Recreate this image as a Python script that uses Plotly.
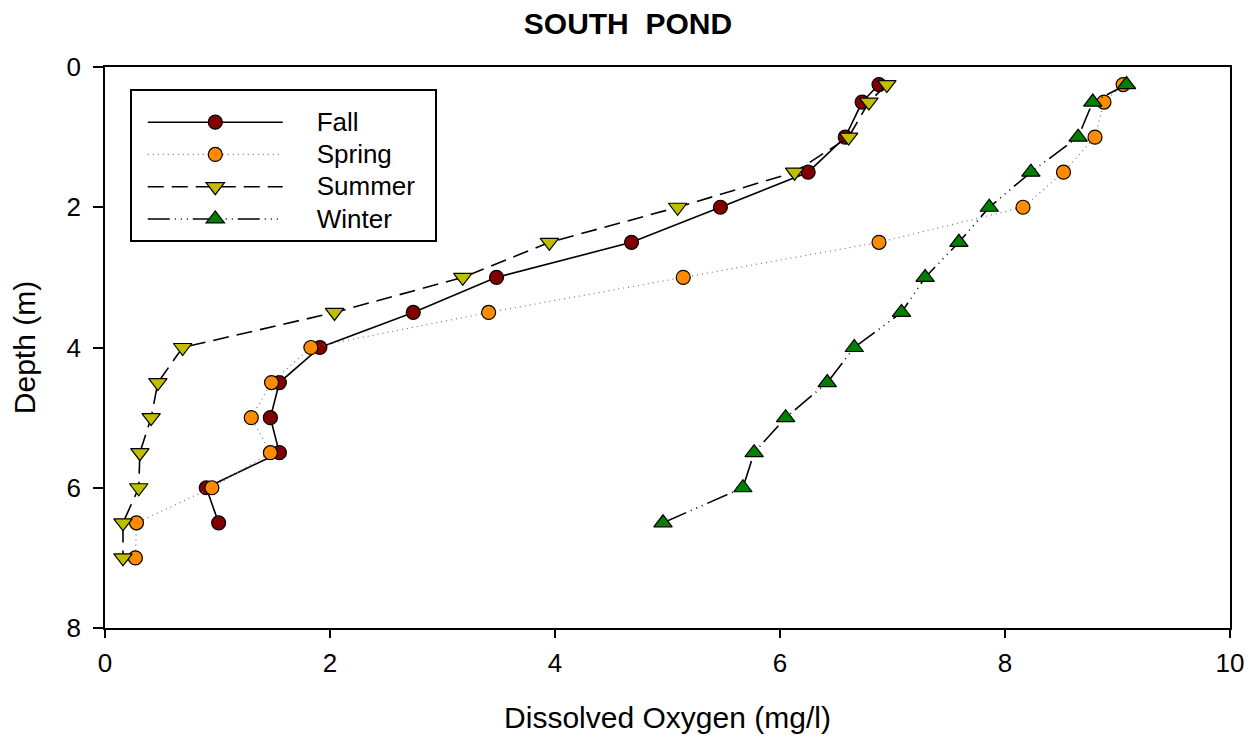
import plotly.graph_objects as go

depth_fall = [0.25, 0.5, 1, 1.5, 2, 2.5, 3, 3.5, 4, 4.5, 5, 5.5, 6, 6.5]
do_fall = [6.88, 6.73, 6.58, 6.25, 5.47, 4.68, 3.48, 2.74, 1.91, 1.55, 1.47, 1.55, 0.90, 1.01]

depth_spring = [0.25, 0.5, 1, 1.5, 2, 2.5, 3, 3.5, 4, 4.5, 5, 5.5, 6, 6.5, 7]
do_spring = [9.05, 8.88, 8.80, 8.52, 8.16, 6.88, 5.14, 3.41, 1.83, 1.48, 1.30, 1.47, 0.95, 0.28, 0.27]

depth_summer = [0.25, 0.5, 1, 1.5, 2, 2.5, 3, 3.5, 4, 4.5, 5, 5.5, 6, 6.5, 7]
do_summer = [6.95, 6.79, 6.61, 6.13, 5.09, 3.95, 3.18, 2.04, 0.69, 0.47, 0.41, 0.31, 0.30, 0.16, 0.16]

depth_winter = [0.25, 0.5, 1, 1.5, 2, 2.5, 3, 3.5, 4, 4.5, 5, 5.5, 6, 6.5]
do_winter = [9.08, 8.78, 8.65, 8.23, 7.86, 7.59, 7.29, 7.08, 6.66, 6.42, 6.05, 5.77, 5.67, 4.96]

series_names = ["Fall", "Spring", "Summer", "Winter"]

FONT = "Liberation Sans, Arial, sans-serif"
PAD = "\u00a0" * 4
TRAIL = "\u00a0" * 2


def legend_label(name):
    return '<span style="font-size:26px">' + PAD + name + TRAIL + "</span>"


fig = go.Figure()
fig.add_trace(go.Scatter(
    x=do_fall, y=depth_fall, name=legend_label(series_names[0]), mode="lines+markers",
    line=dict(color="black", width=1.6, dash="solid"),
    marker=dict(symbol="circle", size=14, color="#800000", line=dict(color="black", width=1.2)),
))
fig.add_trace(go.Scatter(
    x=do_spring, y=depth_spring, name=legend_label(series_names[1]), mode="lines+markers",
    line=dict(color="#777777", width=1.2, dash="1px,4px"),
    marker=dict(symbol="circle", size=14, color="#FF8C00", line=dict(color="black", width=1.2)),
))
fig.add_trace(go.Scatter(
    x=do_summer, y=depth_summer, name=legend_label(series_names[2]), mode="lines+markers",
    line=dict(color="black", width=1.6, dash="16px,8px"),
    marker=dict(symbol="triangle-down", size=16, color="#BFBF00", line=dict(color="black", width=1.2)),
))
fig.add_trace(go.Scatter(
    x=do_winter, y=depth_winter, name=legend_label(series_names[3]), mode="lines+markers",
    line=dict(color="black", width=1.6, dash="22px,5px,1px,5px,1px,5px,1px,5px"),
    marker=dict(symbol="triangle-up", size=16, color="#008000", line=dict(color="black", width=1.2)),
))

fig.update_layout(
    width=1255, height=740,
    margin=dict(l=97, r=33, t=59, b=120),
    paper_bgcolor="white", plot_bgcolor="white",
    font=dict(family=FONT, color="black"),
    title=dict(text="<b>SOUTH  POND</b>", x=0.494, xanchor="center", y=0.979, yanchor="middle",
               font=dict(size=30, family=FONT)),
    xaxis=dict(range=[0, 10], dtick=2, tick0=0, showgrid=False, zeroline=False,
               showline=True, linecolor="black", linewidth=1.8, mirror=True,
               ticks="outside", ticklen=8, tickwidth=1.6, tickcolor="black", ticklabelstandoff=3,
               tickfont=dict(size=26), title=dict(text="Dissolved Oxygen (mg/l)", font=dict(size=30), standoff=30)),
    yaxis=dict(range=[8, 0], dtick=2, tick0=0, showgrid=False, zeroline=False,
               showline=True, linecolor="black", linewidth=1.8, mirror=True,
               ticks="outside", ticklen=10, tickwidth=1.6, tickcolor="black", ticklabelstandoff=7,
               tickfont=dict(size=26), title=dict(text="Depth (m)", font=dict(size=30), standoff=22)),
    legend=dict(x=0.0222, y=0.961, xanchor="left", yanchor="top",
                bgcolor="white", bordercolor="black", borderwidth=1.8,
                font=dict(size=22.5), itemwidth=135, tracegroupgap=0, indentation=11,
                title=dict(text="\u00a0", font=dict(size=8))),
    showlegend=True,
)

fig.write_html("out.html")
